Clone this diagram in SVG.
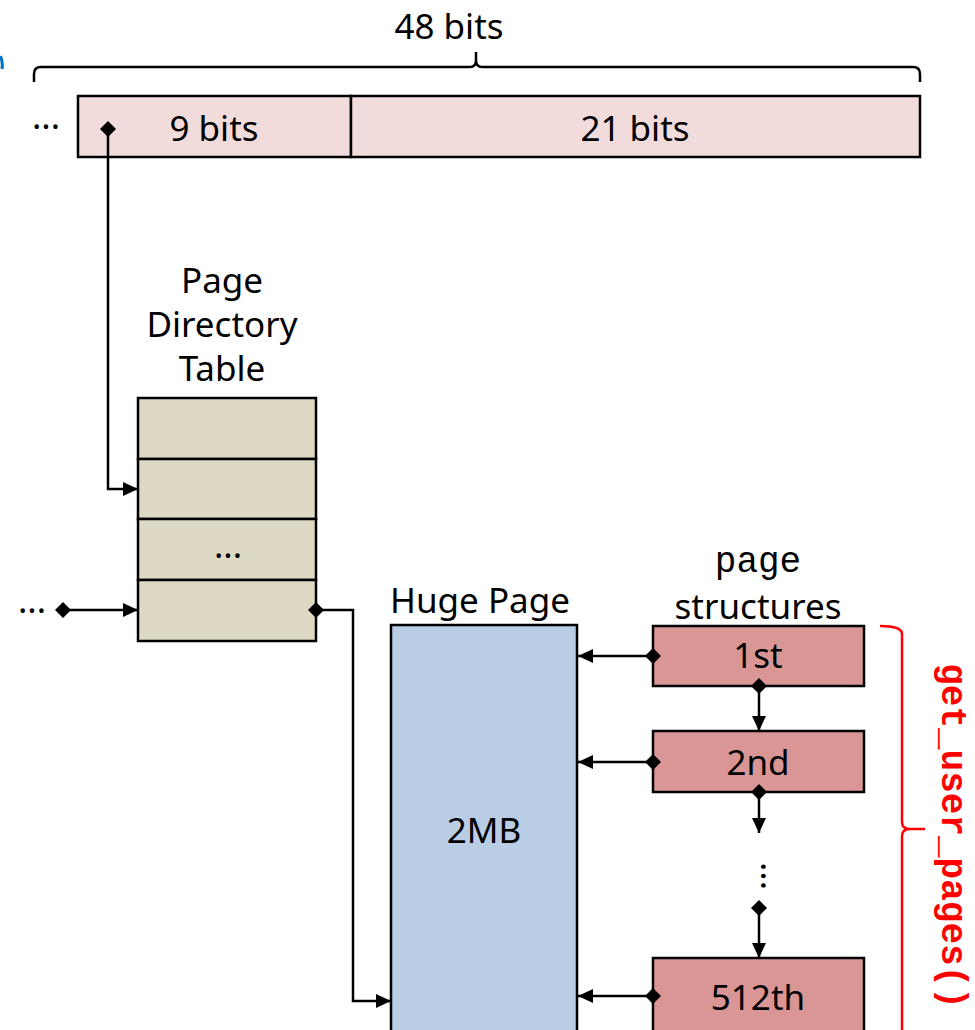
<svg xmlns="http://www.w3.org/2000/svg" width="975" height="1030" viewBox="0 0 975 1030">
  <defs>
    <style>
      .lbl { font-family: "Noto Sans", "Open Sans", "DejaVu Sans", sans-serif; font-size: 35px; fill: #000; text-anchor: middle; }
      .mono { font-family: "Liberation Mono", "DejaVu Sans Mono", monospace; font-size: 36px; fill: #000; text-anchor: middle; }
      .box { stroke: #000; stroke-width: 2.5; }
      .wire { fill: none; stroke: #000; stroke-width: 2.5; }
      .brace { fill: none; stroke: #000; stroke-width: 2.5; }
      .rbrace { fill: none; stroke: #FF0000; stroke-width: 2.5; }
    </style>
    <marker id="arrow" viewBox="0 0 15 14" refX="15" refY="7" markerWidth="15" markerHeight="14" markerUnits="userSpaceOnUse" orient="auto">
      <path d="M0,0 L15,7 L0,14 Z" fill="#000"/>
    </marker>
    <marker id="dia" viewBox="0 0 16 16" refX="8" refY="8" markerWidth="16" markerHeight="16" markerUnits="userSpaceOnUse" orient="auto">
      <path d="M0,8 L8,0 L16,8 L8,16 Z" fill="#000"/>
    </marker>
  </defs>

  <rect width="975" height="1030" fill="#fff"/>

  <!-- clipped edge stroke at the left margin -->
  <path d="M0.5,56 Q3,62 2,69" fill="none" stroke="#0070C0" stroke-width="3"/>

  <!-- 48-bit address -->
  <g id="addr-brace">
    <path class="brace" d="M34,82 L34,74 Q34,67 41,67 L470,67 Q476,67 476,60 L476,52 M476,60 Q476,67 482,67 L913,67 Q920,67 920,74 L920,82"/>
    <text class="lbl" x="449" y="39">48 bits</text>
  </g>
  <g id="addr">
    <text class="lbl" x="46" y="129">...</text>
    <rect class="box" x="78" y="96" width="273" height="61" fill="#F2DCDB"/>
    <rect class="box" x="351" y="96" width="569" height="61" fill="#F2DCDB"/>
    <text class="lbl" x="214" y="141">9 bits</text>
    <text class="lbl" x="635" y="141">21 bits</text>
  </g>

  <!-- page directory table -->
  <g id="pdt">
    <text class="lbl" x="222" y="293">Page</text>
    <text class="lbl" x="222" y="337">Directory</text>
    <text class="lbl" x="222" y="381">Table</text>
    <rect class="box" x="138" y="398" width="178" height="61" fill="#DDD9C4"/>
    <rect class="box" x="138" y="459" width="178" height="60" fill="#DDD9C4"/>
    <rect class="box" x="138" y="519" width="178" height="61" fill="#DDD9C4"/>
    <rect class="box" x="138" y="580" width="178" height="61" fill="#DDD9C4"/>
    <text class="lbl" x="228" y="558">...</text>
  </g>

  <g id="prev-level">
    <text class="lbl" x="32" y="613">...</text>
  </g>

  <!-- huge page -->
  <g id="huge-page">
    <text class="lbl" x="480" y="613">Huge Page</text>
    <rect class="box" x="391" y="625" width="186" height="420" fill="#B9CDE5"/>
    <text class="lbl" x="484" y="843">2MB</text>
  </g>

  <!-- struct page entries -->
  <g id="page-structs">
    <text class="mono" x="758" y="572">page</text>
    <text class="lbl" x="758" y="619">structures</text>
  </g>
  <g id="page-1st">
    <rect class="box" x="653" y="626" width="211" height="60" fill="#D99694"/>
    <text class="lbl" x="758" y="668">1st</text>
  </g>
  <g id="page-2nd">
    <rect class="box" x="653" y="731" width="211" height="61" fill="#D99694"/>
    <text class="lbl" x="758" y="775">2nd</text>
  </g>
  <g id="page-gap">
    <text class="lbl" transform="translate(761,876) rotate(90)">...</text>
  </g>
  <g id="page-512th">
    <rect class="box" x="653" y="958" width="211" height="90" fill="#D99694"/>
    <text class="lbl" x="758" y="1010">512th</text>
  </g>

  <!-- get_user_pages() span -->
  <g id="gup">
    <path class="rbrace" d="M880,626 Q902,626 902,634 L902,822 Q902,829 910,829 L925,829 M910,829 Q902,829 902,836 L902,1040"/>
    <text transform="translate(942,836) rotate(90)" style="font-family:'Liberation Mono','DejaVu Sans Mono',monospace;font-size:36px;font-weight:bold;fill:#FF0000;text-anchor:middle">get_user_pages()</text>
  </g>

  <!-- connectors -->
  <g id="connectors">
    <path class="wire" d="M108,129 L108,489 L138,489" marker-start="url(#dia)" marker-end="url(#arrow)"/>
    <path class="wire" d="M63,610 L138,610" marker-start="url(#dia)" marker-end="url(#arrow)"/>
    <path class="wire" d="M316,610 L353,610 L353,1001 L391,1001" marker-start="url(#dia)" marker-end="url(#arrow)"/>
    <path class="wire" d="M653,656 L578,656" marker-start="url(#dia)" marker-end="url(#arrow)"/>
    <path class="wire" d="M653,762 L578,762" marker-start="url(#dia)" marker-end="url(#arrow)"/>
    <path class="wire" d="M653,996 L578,996" marker-start="url(#dia)" marker-end="url(#arrow)"/>
    <path class="wire" d="M759,686 L759,731" marker-start="url(#dia)" marker-end="url(#arrow)"/>
    <path class="wire" d="M759,792 L759,833" marker-start="url(#dia)" marker-end="url(#arrow)"/>
    <path class="wire" d="M759,908 L759,958" marker-start="url(#dia)" marker-end="url(#arrow)"/>
  </g>
</svg>
